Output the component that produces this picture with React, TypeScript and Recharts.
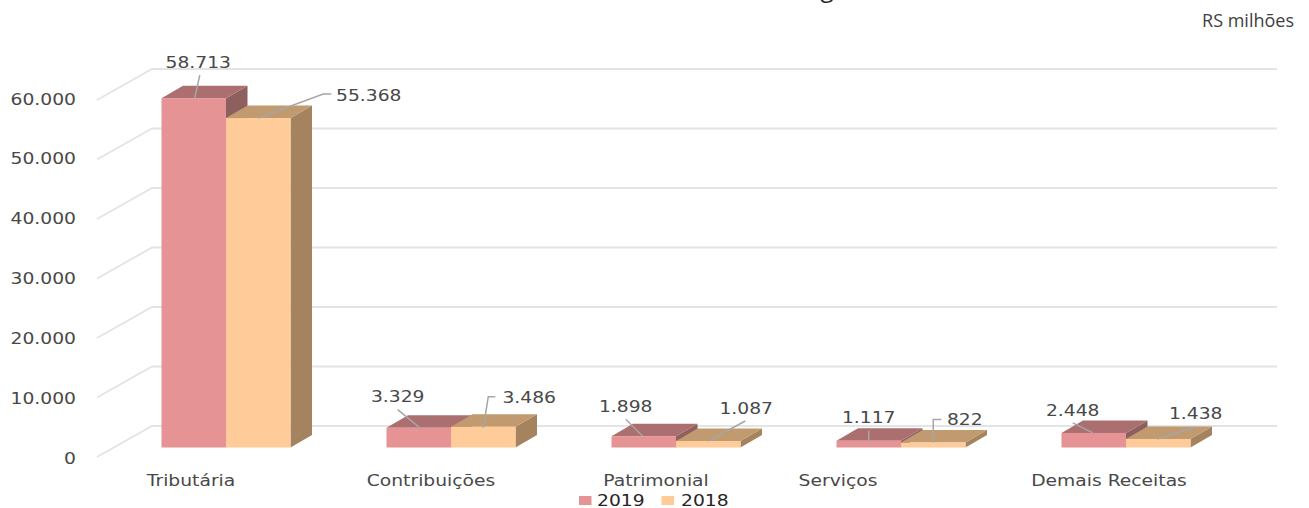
import { BarChart, Bar, XAxis, YAxis, CartesianGrid, Legend, LabelList } from "recharts";

const categories = ["Tributária", "Contribuições", "Patrimonial", "Serviços", "Demais Receitas"];
const values2019 = [58713, 3329, 1898, 1117, 2448];
const values2018 = [55368, 3486, 1087, 822, 1438];
const yTicks = [0, 10000, 20000, 30000, 40000, 50000, 60000];

const data = categories.map((name, i) => ({ name, v2019: values2019[i], v2018: values2018[i] }));

const TEXT = "#484848";
const FONT = "'DejaVu Sans', sans-serif";
const STRETCH = 1.17;
// the bars stand a bit in front of the axis plane
const FLOOR_SHIFT = -9.5;
const DEPTH = { x: 21.5, y: -12.5 };

// where the category labels sit, relative to the band centre
const tickShift = [-35, -20, -20, -63, -17];

// label centre and leader line, relative to the top centre of the bar
const labels2019 = [
  { dx: 4.5, dy: -36, line: [[1, 0], [6, -23]] },
  { dx: -21, dy: -31, line: [[2, 1], [-21, -18]] },
  { dx: -18, dy: -30, line: [[-1, 0], [-18, -17]] },
  { dx: 0, dy: -23, line: [[0, 0], [0, -10]] },
  { dx: -21, dy: -22, line: [[-1, 0], [-21, -10]] },
];
const labels2018 = [
  { dx: 110.5, dy: -23, line: [[0, 0], [65, -24], [73, -24]] },
  { dx: 46, dy: -29, line: [[0, 1], [5, -30], [12, -30]] },
  { dx: 38, dy: -33, line: [[0, 0], [37, -20]] },
  { dx: 31.5, dy: -23, line: [[0, 0], [0, -23], [8, -23]] },
  { dx: 37.5, dy: -25, line: [[-1, 0], [37, -12]] },
];

const fmt = (v: number) => String(v).replace(/\B(?=(\d{3})+$)/g, ".");

const Stretched = ({ x, y, children, anchor = "middle", fill = TEXT }: any) => (
  <text
    transform={`translate(${x},${y}) scale(${STRETCH},1)`}
    textAnchor={anchor}
    dominantBaseline="central"
    fontFamily={FONT}
    fontSize={16}
    fill={fill}
  >
    {children}
  </text>
);

const bar3d = (top: string, side: string) => (props: any) => {
  const { x, width, height, fill } = props;
  const y = props.y + FLOOR_SHIFT;
  const r = x + width;
  const b = y + height;
  return (
    <g>
      <polygon
        points={`${r},${y} ${r + DEPTH.x},${y + DEPTH.y} ${r + DEPTH.x},${b + DEPTH.y} ${r},${b}`}
        fill={side}
      />
      <polygon
        points={`${x},${y} ${x + DEPTH.x},${y + DEPTH.y} ${r + DEPTH.x},${y + DEPTH.y} ${r},${y}`}
        fill={top}
      />
      <rect x={x} y={y} width={width} height={height} fill={fill} />
    </g>
  );
};

const barLabel = (layout: typeof labels2019) => (props: any) => {
  const box = props.viewBox ?? props;
  const cx = box.x + box.width / 2;
  const top = box.y + FLOOR_SHIFT;
  const item = layout[props.index];
  return (
    <g>
      <polyline
        points={item.line.map(([dx, dy]) => `${cx + dx},${top + dy}`).join(" ")}
        fill="none"
        stroke="#A6A6A6"
        strokeWidth={1.5}
      />
      <Stretched x={cx + item.dx} y={top + item.dy}>
        {fmt(Number(props.value))}
      </Stretched>
    </g>
  );
};

// grid line running from the axis, up the side wall and along the back wall
const gridLine = (props: any) => {
  const { x1, x2, y1 } = props;
  return (
    <polyline
      key={props.key ?? y1}
      points={`${x1 - 16.5},${y1} ${x1 + 38.5},${y1 - 31} ${x2 + 38.5},${y1 - 31}`}
      fill="none"
      stroke="#E4E4E4"
      strokeWidth={2}
    />
  );
};

// the axis labels are spaced slightly wider than the grid
const YTick = ({ y, payload, index }: any) => (
  <Stretched x={76} y={y - 1 + (6 - index) / 3} anchor="end">
    {fmt(payload.value)}
  </Stretched>
);

const XTick = ({ x, payload, index }: any) => (
  <Stretched x={x + tickShift[index]} y={480}>
    {payload.value}
  </Stretched>
);

const LegendRow = ({ payload }: any) => (
  <svg width={1309} height={20} style={{ display: "block" }}>
    {(payload ?? []).map((item: any, i: number) => (
      <g key={item.value}>
        <rect x={579 + i * 82.5} y={8} width={12.5} height={9} fill={item.color} />
        <Stretched x={597 + i * 84} y={12} anchor="start" fill="#262626">
          {item.value}
        </Stretched>
      </g>
    ))}
  </svg>
);

export default function App() {
  return (
    <div style={{ position: "absolute", left: 0, top: 0, width: 1309, height: 508, overflow: "hidden", background: "#fff" }}>
      <BarChart
        width={1309}
        height={508}
        data={data}
        margin={{ top: 100, right: 70.5, bottom: 0, left: 0 }}
        barSize={64.5}
        barGap={0}
      >
        <CartesianGrid vertical={false} horizontal={gridLine} />
        <XAxis dataKey="name" height={51} axisLine={false} tickLine={false} interval={0} tick={<XTick />} />
        <YAxis
          width={113.5}
          domain={[0, 60000]}
          ticks={yTicks}
          interval={0}
          axisLine={false}
          tickLine={false}
          tick={<YTick />}
        />
        <Legend
          verticalAlign="middle"
          width={1309}
          wrapperStyle={{ left: 0, top: 488 }}
          itemSorter={(item: any) => -Number(item.value)}
          content={<LegendRow />}
        />
        <Bar dataKey="v2019" name="2019" fill="#E59394" isAnimationActive={false} shape={bar3d("#AC6F6F", "#8E5F5F")}>
          <LabelList dataKey="v2019" content={barLabel(labels2019)} />
        </Bar>
        <Bar dataKey="v2018" name="2018" fill="#FFCC99" isAnimationActive={false} shape={bar3d("#C19A6F", "#A5835F")}>
          <LabelList dataKey="v2018" content={barLabel(labels2018)} />
        </Bar>
        {/* the title is cut off by the top of the picture, only a descender shows */}
        <text x={827} y={-3.5} textAnchor="middle" fontFamily="'Open Sans', sans-serif" fontSize={24} fill="#222222">
          g
        </text>
        <text x={1294} y={20} textAnchor="end" dominantBaseline="central" fontFamily="'Open Sans', sans-serif" fontSize={18} fill="#404040">
          RS milhões
        </text>
      </BarChart>
    </div>
  );
}
